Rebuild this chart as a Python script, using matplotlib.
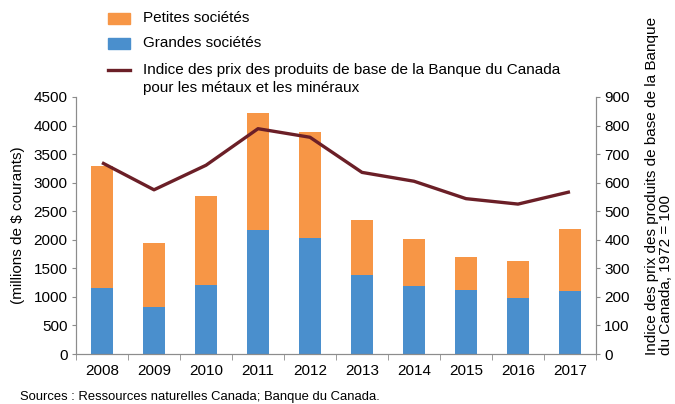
import matplotlib
matplotlib.use("Agg")
import matplotlib.pyplot as plt
from matplotlib.patches import Rectangle
from matplotlib.lines import Line2D

plt.rcParams['font.family'] = ['Liberation Sans', 'DejaVu Sans']

years = ['2008', '2009', '2010', '2011', '2012', '2013', '2014', '2015', '2016', '2017']
grandes = [1160, 823, 1212, 2171, 2028, 1380, 1195, 1125, 985, 1106]
totals = [3287, 1938, 2767, 4220, 3883, 2355, 2010, 1703, 1628, 2192]
petites = [t - g for t, g in zip(totals, grandes)]
indice = [670, 575, 661, 789, 759, 636, 605, 544, 525, 568]

c_orange = '#F79646'
c_blue = '#4A8FCD'
c_line = '#6B1F27'
c_spine = '#8C8C8C'

fig = plt.figure(figsize=(6.75, 4.04), dpi=100)
ax = fig.add_axes([76/675, 1-354/404, 520/675, 257/404])
x = list(range(len(years)))
ax.bar(x, grandes, width=0.42, color=c_blue, zorder=2)
ax.bar(x, petites, bottom=grandes, width=0.42, color=c_orange, zorder=2)
ax.set_xlim(-0.5, len(years)-0.5)
ax.set_ylim(0, 4500)
ax.set_yticks(range(0, 4501, 500))
ax.set_xticks(x)
ax.set_xticklabels(years)
ax.set_xticks([i + 0.5 for i in range(-1, len(years))], minor=True)
ax.tick_params(axis='x', which='major', length=0, pad=7, labelsize=11)
ax.tick_params(axis='x', which='minor', length=4, color=c_spine, direction='out')
ax.tick_params(axis='y', length=3, color=c_spine, direction='out', labelsize=11, pad=3)
for s in ['top']:
    ax.spines[s].set_visible(False)
for s in ['left', 'bottom', 'right']:
    ax.spines[s].set_color(c_spine)
ax.set_ylabel('(millions de $ courants)', fontsize=11, labelpad=6)

ax2 = ax.twinx()
ax2.plot(x, indice, color=c_line, linewidth=2.4, zorder=3, solid_capstyle='butt')
ax2.set_ylim(0, 900)
ax2.set_yticks(range(0, 901, 100))
ax2.tick_params(axis='y', length=3, color=c_spine, direction='out', labelsize=11, pad=3)
ax2.spines['top'].set_visible(False)
for s in ['left', 'bottom', 'right']:
    ax2.spines[s].set_color(c_spine)

fig.text(659/675, 1-355/404,
         'Indice des prix des produits de base de la Banque\ndu Canada, 1972 = 100',
         rotation=90, ha='center', va='bottom', multialignment='left', fontsize=11,
         linespacing=1.0)

# legend
fig.add_artist(Rectangle((108/675, 1-24/404), 22/675, 11/404, transform=fig.transFigure, color=c_orange))
fig.add_artist(Rectangle((108/675, 1-49/404), 22/675, 11/404, transform=fig.transFigure, color=c_blue))
fig.add_artist(Line2D([108/675, 130/675], [1-70/404, 1-70/404], transform=fig.transFigure, color=c_line, linewidth=2.4))
fig.text(143/675, 1-18/404, 'Petites sociétés', fontsize=11, va='center', ha='left')
fig.text(143/675, 1-43/404, 'Grandes sociétés', fontsize=11, va='center', ha='left')
fig.text(143/675, 1-70/404, 'Indice des prix des produits de base de la Banque du Canada', fontsize=11, va='center', ha='left')
fig.text(143/675, 1-88/404, 'pour les métaux et les minéraux', fontsize=11, va='center', ha='left')

fig.text(20/675, 1-397/404, 'Sources : Ressources naturelles Canada; Banque du Canada.', fontsize=9.4, va='center', ha='left')

fig.savefig('out.png', dpi=100)
